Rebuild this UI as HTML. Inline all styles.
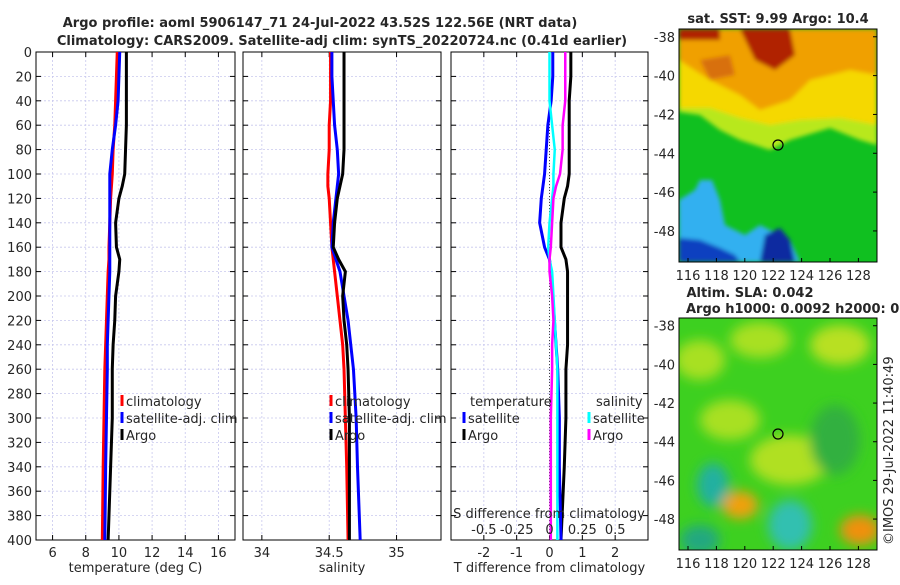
<!DOCTYPE html>
<html><head><meta charset="utf-8"><style>
body{margin:0;background:#fff;width:900px;height:580px;overflow:hidden;font-family:"Liberation Sans","DejaVu Sans",sans-serif}
svg text{font-family:"DejaVu Sans","Liberation Sans",sans-serif;fill:#262626}
</style></head><body>
<svg id="c" width="900" height="580" xmlns="http://www.w3.org/2000/svg">
<defs>
<filter id="bl" x="-20%" y="-20%" width="140%" height="140%"><feGaussianBlur stdDeviation="6"/></filter>
<filter id="bl2" x="-20%" y="-20%" width="140%" height="140%"><feGaussianBlur stdDeviation="2"/></filter>
<clipPath id="m1"><rect x="679" y="29" width="198" height="233"/></clipPath>
<clipPath id="m2"><rect x="679" y="318" width="198" height="232"/></clipPath>
</defs>
<text x="320" y="27" font-size="13" font-weight="bold" text-anchor="middle" fill="#000">Argo profile: aoml 5906147_71 24-Jul-2022 43.52S 122.56E (NRT data)</text>
<text x="342" y="45" font-size="13" font-weight="bold" text-anchor="middle" fill="#000">Climatology: CARS2009. Satellite-adj clim: synTS_20220724.nc (0.41d earlier)</text>
<g id="plots"></g>
<!-- SST map -->
<g clip-path="url(#m1)">
<rect x="679" y="29" width="198" height="233" fill="#10c020"/>
<g filter="url(#bl2)">
<polygon points="679,29 877,29 877,145 860,140 830,128 790,140 770,150 740,140 720,130 700,115 679,112" fill="#b8e81a"/>
<polygon points="679,29 877,29 877,125 840,118 800,120 770,125 740,118 710,108 679,108" fill="#f5d800"/>
<polygon points="679,29 877,29 877,75 850,70 810,80 790,100 760,110 740,95 710,80 679,60" fill="#f0a000"/>
<polygon points="700,60 730,55 735,75 710,80" fill="#d87010"/>
<polygon points="740,29 790,29 795,55 775,70 755,60" fill="#b02000"/>
<polygon points="679,29 720,29 720,40 679,40" fill="#b02000"/>
<polygon points="679,262 679,200 695,190 700,180 712,180 720,200 725,225 745,235 760,225 790,240 800,262" fill="#30b0f0"/>
<polygon points="679,262 679,238 700,240 720,248 735,255 740,262" fill="#1040c0"/>
<polygon points="760,262 765,235 780,228 790,240 795,262" fill="#0a2aa0"/>
</g>
<circle cx="778" cy="145" r="5" fill="none" stroke="#000" stroke-width="1.2"/>
</g>
<rect x="679" y="29" width="198" height="233" fill="none" stroke="#000"/>
<text x="778" y="23" font-size="13" font-weight="bold" text-anchor="middle" fill="#000">sat. SST: 9.99 Argo: 10.4</text>
<!-- SLA map -->
<g clip-path="url(#m2)">
<rect x="679" y="318" width="198" height="232" fill="#3dd020"/>
<g filter="url(#bl)">
<ellipse cx="700" cy="360" rx="25" ry="20" fill="#a8e020"/>
<ellipse cx="760" cy="340" rx="30" ry="18" fill="#a8e020"/>
<ellipse cx="840" cy="345" rx="30" ry="20" fill="#b8e020"/>
<ellipse cx="790" cy="460" rx="40" ry="25" fill="#b0e020"/>
<ellipse cx="730" cy="420" rx="30" ry="20" fill="#a8e020"/>
<ellipse cx="740" cy="505" rx="18" ry="14" fill="#f0a010"/>
<ellipse cx="860" cy="530" rx="20" ry="15" fill="#f09010"/>
<ellipse cx="713" cy="485" rx="16" ry="22" fill="#20b0a0"/>
<ellipse cx="790" cy="525" rx="22" ry="25" fill="#30c0b0"/>
<ellipse cx="700" cy="540" rx="20" ry="15" fill="#20a880"/>
<ellipse cx="835" cy="440" rx="25" ry="35" fill="#30b040"/>
</g>
<circle cx="778" cy="434" r="5" fill="none" stroke="#000" stroke-width="1.2"/>
</g>
<rect x="679" y="318" width="198" height="232" fill="none" stroke="#000"/>
<text x="750" y="297" font-size="13" font-weight="bold" text-anchor="middle" fill="#000">Altim. SLA: 0.042</text>
<text x="686" y="313" font-size="13" font-weight="bold" fill="#000">Argo h1000: 0.0092 h2000: 0.02</text>
<g id="maps"></g>
<text transform="translate(893,545) rotate(-90)" font-size="13">©IMOS 29-Jul-2022 11:40:49</text>
</svg>
<script>
const depths=[0,20,40,60,80,100,110,120,140,160,170,180,200,220,240,260,300,340,400];
const tArgo=[10.45,10.45,10.45,10.45,10.4,10.35,10.2,10.0,9.8,9.85,10.05,10.0,9.8,9.75,9.65,9.6,9.6,9.5,9.35];
const tClim=[9.9,9.85,9.8,9.75,9.65,9.6,9.55,9.5,9.45,9.4,9.4,9.35,9.3,9.25,9.2,9.15,9.1,9.05,9.0];
const tSat=[10.05,10.0,9.95,9.8,9.6,9.45,9.45,9.45,9.45,9.45,9.45,9.45,9.4,9.35,9.3,9.3,9.25,9.2,9.15];
const sArgo=[34.61,34.61,34.61,34.61,34.61,34.6,34.58,34.56,34.54,34.53,34.57,34.62,34.6,34.61,34.63,34.64,34.65,34.65,34.65];
const sClim=[34.51,34.51,34.51,34.50,34.50,34.49,34.49,34.50,34.51,34.52,34.53,34.54,34.56,34.58,34.60,34.61,34.62,34.63,34.64];
const sSat=[34.52,34.52,34.53,34.54,34.56,34.57,34.56,34.55,34.53,34.52,34.55,34.58,34.61,34.64,34.66,34.68,34.70,34.71,34.73];
const dTArgo=[0.65,0.65,0.6,0.6,0.6,0.6,0.55,0.45,0.35,0.35,0.5,0.55,0.55,0.55,0.55,0.5,0.5,0.45,0.35];
const dTSat=[0.1,0.1,0.05,-0.05,-0.1,-0.15,-0.2,-0.25,-0.3,-0.15,0.0,0.05,0.1,0.15,0.2,0.25,0.3,0.3,0.35];
const dSArgo=[0.12,0.12,0.12,0.1,0.1,0.08,0.05,0.03,0.02,0.01,0.0,0.0,0.02,0.03,0.02,0.02,0.01,0.01,0.01];
const dSSat=[0.0,0.0,0.0,0.02,0.04,0.03,0.03,0.02,0.0,-0.01,0.0,0.02,0.03,0.04,0.05,0.06,0.06,0.06,0.06];
const yTicks=[0,20,40,60,80,100,120,140,160,180,200,220,240,260,280,300,320,340,360,380,400];
const tTicks=[6,8,10,12,14,16];
const sTicks=[34,34.5,35];
const dTTicks=[-2,-1,0,1,2];
const dSTicks=[-0.5,-0.25,0,0.25,0.5];
const lonTicks=[116,118,120,122,124,126,128];
const latTicks=[-38,-40,-42,-44,-46,-48];
const NS='http://www.w3.org/2000/svg';
function mk(tag,at,par){const e=document.createElementNS(NS,tag);for(const k in at)e.setAttribute(k,at[k]);par.appendChild(e);return e;}
const G=document.getElementById('plots');
const Y0=52,Y1=540;
const y=d=>Y0+(Y1-Y0)*d/400;
function panel(name,x0,x1,d0,d1,ticks,label,showY){
  const x=v=>x0+(x1-x0)*(v-d0)/(d1-d0);
  const g=mk('g',{},G);
  
  
  yTicks.forEach(t=>{const l=mk('line',{x1:x0,x2:x1,y1:y(t),y2:y(t),stroke:'#c8c8ee','stroke-dasharray':'2,2','stroke-width':0.8},g);
    mk('line',{x1:x0,x2:x0+5,y1:y(t),y2:y(t),stroke:'#000'},g);mk('line',{x1:x1-5,x2:x1,y1:y(t),y2:y(t),stroke:'#000'},g);
    if(showY){const tx=mk('text',{x:x0-4,y:y(t)+5,'font-size':13,'text-anchor':'end'},g);tx.textContent=t;
      }});
  ticks.forEach(t=>{mk('line',{x1:x(t),x2:x(t),y1:Y0,y2:Y1,stroke:'#c8c8ee','stroke-dasharray':'2,2','stroke-width':0.8},g);
    mk('line',{x1:x(t),x2:x(t),y1:Y1-5,y2:Y1,stroke:'#000'},g);mk('line',{x1:x(t),x2:x(t),y1:Y0,y2:Y0+5,stroke:'#000'},g);
    const tx=mk('text',{x:x(t),y:Y1+17,'font-size':13,'text-anchor':'middle'},g);tx.textContent=t;
    });
  mk('rect',{x:x0,y:Y0,width:x1-x0,height:Y1-Y0,fill:'none',stroke:'#000'},g);
  const lb=mk('text',{x:(x0+x1)/2,y:572,'font-size':13,'text-anchor':'middle'},g);lb.textContent=label;
  
  return {x,g};
}
function line(p,vals,col,nm,w){const pl=mk('polyline',{points:vals.map((v,i)=>p.x(v)+','+y(depths[i])).join(' '),fill:'none',stroke:col,'stroke-width':w||3},p.g);
  }
function legend(g,x,yy,items){items.forEach((it,i)=>{mk('line',{x1:x,x2:x,y1:yy+i*17-11,y2:yy+i*17,stroke:it[1],'stroke-width':3},g);
  const t=mk('text',{x:x+4,y:yy+i*17,'font-size':13},g);t.textContent=it[0];});}
const p1=panel('temperature-panel',36,235,5,17,tTicks,'temperature (deg C)',true);
line(p1,tClim,'#f00','climatology-temp-line');line(p1,tSat,'#00f','satellite-temp-line');line(p1,tArgo,'#000','argo-temp-line');
legend(p1.g,122,406,[['climatology','#f00'],['satellite-adj. clim','#00f'],['Argo','#000']]);
const p2=panel('salinity-panel',243,441,33.86,35.33,sTicks,'salinity',false);
line(p2,sClim,'#f00','climatology-sal-line');line(p2,sSat,'#00f','satellite-sal-line');line(p2,sArgo,'#000','argo-sal-line');
legend(p2.g,331,406,[['climatology','#f00'],['satellite-adj. clim','#00f'],['Argo','#000']]);
const p3=panel('difference-panel',451,648,-3,3,dTTicks,'T difference from climatology',false);
const xs=v=>p3.x(v*4);
mk('line',{x1:p3.x(0),x2:p3.x(0),y1:Y0,y2:Y1,stroke:'#444','stroke-dasharray':'1,2'},p3.g);
line(p3,dTArgo,'#000','argo-t-diff-line');line(p3,dTSat,'#00f','satellite-t-diff-line');
line({x:xs,g:p3.g},dSSat,'#0ff','satellite-s-diff-line',2.5);line({x:xs,g:p3.g},dSArgo,'#f0f','argo-s-diff-line',2.5);
let t=mk('text',{x:470,y:406,'font-size':13},p3.g);t.textContent='temperature';
t=mk('text',{x:596,y:406,'font-size':13},p3.g);t.textContent='salinity';
legend(p3.g,464,423,[['satellite','#00f'],['Argo','#000']]);
legend(p3.g,589,423,[['satellite','#0ff'],['Argo','#f0f']]);
t=mk('text',{x:549,y:518,'font-size':13,'text-anchor':'middle'},p3.g);t.textContent='S difference from climatology';

dSTicks.forEach(v=>{const tx=mk('text',{x:xs(v),y:534,'font-size':13,'text-anchor':'middle'},p3.g);tx.textContent=v;
  });
const M=document.getElementById('maps');
function mapAxes(nm,x0,x1,y0,y1,lat0,lat1){
  const g=mk('g',{},M);
  const lx=v=>688+(v-116)*14.2, ly=v=>y0+(y1-y0)*(lat0-v)/(lat0-lat1);
  lonTicks.forEach(v=>{mk('line',{x1:lx(v),x2:lx(v),y1:y1-4,y2:y1,stroke:'#000'},g);
    const tx=mk('text',{x:lx(v),y:y1+18,'font-size':13,'text-anchor':'middle'},g);tx.textContent=v;});
  latTicks.forEach(v=>{mk('line',{x1:x1-4,x2:x1,y1:ly(v),y2:ly(v),stroke:'#000'},g);
    const tx=mk('text',{x:x0-4,y:ly(v)+5,'font-size':13,'text-anchor':'end'},g);tx.textContent=v;});
}
mapAxes('sst-map-axes',679,877,29,262,-37.6,-49.6);
mapAxes('sla-map-axes',679,877,318,550,-37.6,-49.6);
</script>
</body></html>
